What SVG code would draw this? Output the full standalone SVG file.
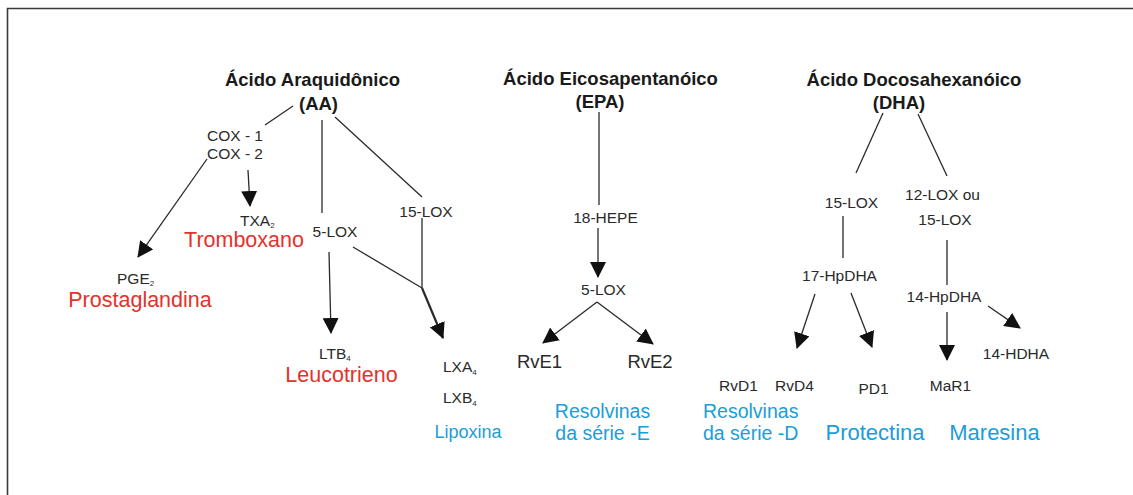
<svg xmlns="http://www.w3.org/2000/svg" width="1133" height="495" viewBox="0 0 1133 495">
<style>
text{font-family:"Liberation Sans",Arial,sans-serif;}
.t{font-size:18.5px;font-weight:bold;fill:#1a1a1a;text-anchor:middle;}
.l{font-size:15.5px;fill:#2a2a2a;}
.m{text-anchor:middle;}
.r{fill:#e4322b;font-size:21.5px;}
.b{fill:#1a9dd9;}
.sub{font-size:8px;}
.c line,.c path{stroke:#2a2a2a;stroke-width:1.3;fill:none;}
.c .a{marker-end:url(#ah);}
.c .thick{stroke-width:2.2;}
</style>
<defs>
<marker id="ah" markerUnits="userSpaceOnUse" markerWidth="17" markerHeight="16" refX="15" refY="8" orient="auto">
<path d="M0,0 L16,8 L0,16 z" fill="#111"/>
</marker>
</defs>
<rect width="1133" height="495" fill="#fff"/>
<g id="frame">
<path d="M7.5,495 V8.5 H1133" fill="none" stroke="#3a3a3a" stroke-width="1.6"/>
</g>
<g id="connectors" class="c">
<line x1="293" y1="106" x2="265" y2="125"/>
<line class="a" x1="207" y1="159" x2="138" y2="257"/>
<line class="a" x1="248" y1="170" x2="250" y2="206"/>
<line x1="322" y1="120" x2="322" y2="213"/>
<line x1="335" y1="117" x2="422" y2="197"/>
<line x1="422" y1="218" x2="422" y2="288"/>
<line x1="353" y1="247" x2="422" y2="288"/>
<line class="a thick" x1="422" y1="288" x2="443" y2="338"/>
<line class="a" x1="329" y1="252" x2="331" y2="333"/>
<line x1="599" y1="112" x2="599" y2="205"/>
<line class="a" x1="598" y1="228" x2="598" y2="277"/>
<line class="a" x1="597" y1="302" x2="543" y2="343"/>
<line class="a" x1="597" y1="302" x2="653" y2="344"/>
<line x1="883" y1="113" x2="856" y2="173"/>
<line x1="918" y1="114" x2="947" y2="176"/>
<line x1="843" y1="216" x2="843" y2="258"/>
<line x1="947" y1="240" x2="947" y2="285"/>
<line class="a" x1="815" y1="294" x2="797" y2="348"/>
<line class="a" x1="851" y1="293" x2="872" y2="347"/>
<line class="a" x1="947" y1="312" x2="947" y2="360"/>
<line class="a" x1="988" y1="306" x2="1020" y2="328"/>
</g>
<g id="aa">
<text class="t" x="312.5" y="86">Ácido Araquidônico</text>
<text class="t" x="318.5" y="110">(AA)</text>
</g>
<g id="epa">
<text class="t" x="610.5" y="85">Ácido Eicosapentanóico</text>
<text class="t" x="600" y="108">(EPA)</text>
</g>
<g id="dha">
<text class="t" x="914" y="86">Ácido Docosahexanóico</text>
<text class="t" x="899" y="109">(DHA)</text>
</g>
<g id="cox"><text class="l" x="207" y="141">COX - 1</text><text class="l" x="207" y="159">COX - 2</text></g>
<g id="txa2"><text class="l" x="240" y="226">TXA<tspan class="sub" dy="2">2</tspan></text></g>
<g id="tromboxano"><text class="r m" x="244" y="247">Tromboxano</text></g>
<g id="lox5-aa"><text class="l m" x="335" y="237">5-LOX</text></g>
<g id="lox15-aa"><text class="l m" x="426" y="217">15-LOX</text></g>
<g id="pge2"><text class="l" x="117" y="284">PGE<tspan class="sub" dy="2">2</tspan></text></g>
<g id="prostaglandina"><text class="r m" x="140" y="307">Prostaglandina</text></g>
<g id="ltb4"><text class="l" x="319" y="359">LTB<tspan class="sub" dy="2">4</tspan></text></g>
<g id="leucotrieno"><text class="r m" x="341.5" y="382">Leucotrieno</text></g>
<g id="lx"><text class="l" x="443" y="372">LXA<tspan class="sub" dy="3">4</tspan></text><text class="l" x="443" y="403">LXB<tspan class="sub" dy="3">4</tspan></text></g>
<g id="lipoxina"><text class="b m" x="468" y="438" style="font-size:18px">Lipoxina</text></g>
<g id="hepe18"><text class="l m" x="605.5" y="223">18-HEPE</text></g>
<g id="lox5-epa"><text class="l m" x="603.5" y="295">5-LOX</text></g>
<g id="rve1"><text class="l m" x="539.5" y="368" style="font-size:18.5px">RvE1</text></g>
<g id="rve2"><text class="l m" x="650" y="368" style="font-size:18.5px">RvE2</text></g>
<g id="resolvinas-e"><text class="b m" x="602.5" y="418" style="font-size:19.5px">Resolvinas</text><text class="b m" x="602.5" y="440" style="font-size:19.5px">da série -E</text></g>
<g id="lox15-dha"><text class="l m" x="851.5" y="208">15-LOX</text></g>
<g id="lox12-dha"><text class="l m" x="942.5" y="200">12-LOX ou</text><text class="l m" x="945" y="225">15-LOX</text></g>
<g id="hpdha17"><text class="l m" x="839.5" y="281">17-HpDHA</text></g>
<g id="hpdha14"><text class="l m" x="944" y="302">14-HpDHA</text></g>
<g id="hdha14"><text class="l m" x="1016" y="359">14-HDHA</text></g>
<g id="rvd"><text class="l m" x="738.5" y="391">RvD1</text><text class="l m" x="794.5" y="391">RvD4</text></g>
<g id="pd1"><text class="l m" x="873.5" y="394">PD1</text></g>
<g id="mar1"><text class="l m" x="950.5" y="391">MaR1</text></g>
<g id="resolvinas-d"><text class="b" x="703" y="418" style="font-size:19.5px">Resolvinas</text><text class="b" x="703" y="440" style="font-size:19.5px">da série -D</text></g>
<g id="protectina"><text class="b m" x="875" y="440" style="font-size:22px">Protectina</text></g>
<g id="maresina"><text class="b m" x="994.5" y="440" style="font-size:22px">Maresina</text></g>
</svg>
